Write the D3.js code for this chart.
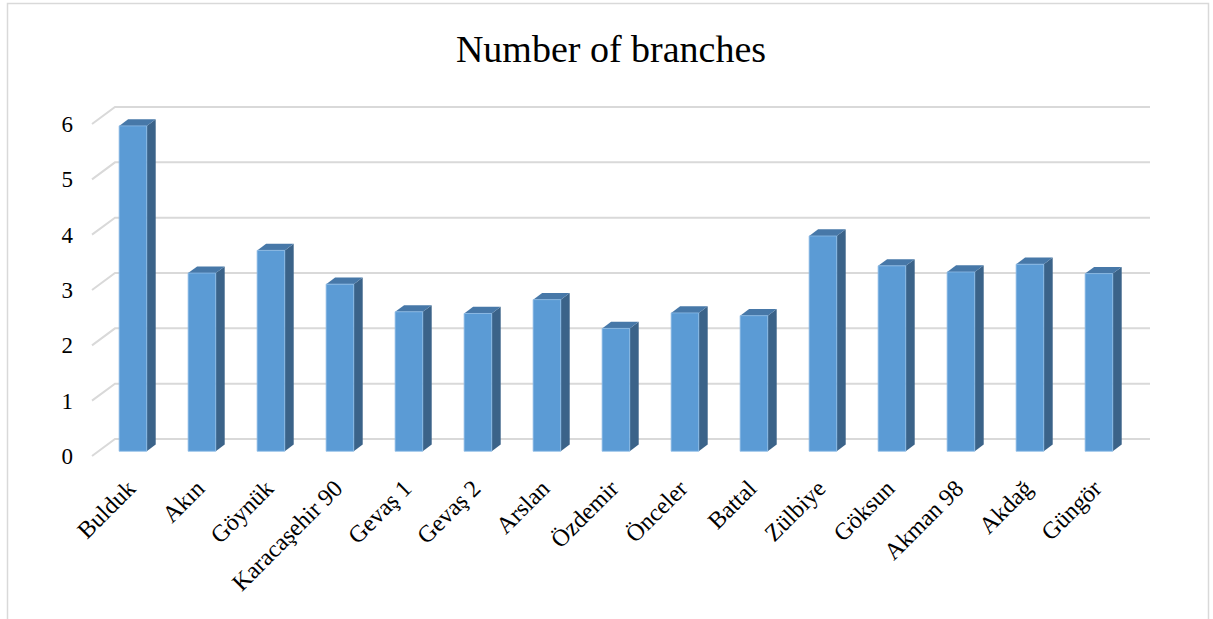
<!DOCTYPE html>
<html>
<head>
<meta charset="utf-8">
<script src="https://cdn.jsdelivr.net/npm/d3@7"></script>
<style>
  html, body { margin: 0; padding: 0; background: #fff; }
  svg { display: block; font-family: "Liberation Serif", "Times New Roman", serif; }
</style>
</head>
<body>
<script>
const categories = ["Bulduk", "Akın", "Göynük", "Karacaşehir 90", "Gevaş 1", "Gevaş 2", "Arslan", "Özdemir", "Önceler", "Battal", "Zülbiye", "Göksun", "Akman 98", "Akdağ", "Güngör"];
const values = [5.88, 3.22, 3.63, 3.02, 2.52, 2.49, 2.74, 2.22, 2.50, 2.45, 3.89, 3.35, 3.24, 3.38, 3.21];
const yTicks = [0, 1, 2, 3, 4, 5, 6];
const title = "Number of branches";

const W = 1213, H = 619;
const svg = d3.select("body").append("svg").attr("width", W).attr("height", H);

// chart border
svg.append("rect").attr("x", 7.5).attr("y", 3.5).attr("width", 1201).attr("height", 700)
  .attr("fill", "#fff").attr("stroke", "#D9D9D9").attr("stroke-width", 1.5);

// back-wall scales
const x = d3.scaleBand().domain(categories).range([115, 1150]).paddingInner(0).paddingOuter(0);
const y = d3.scaleLinear().domain([0, 6]).range([439, 107]);
// oblique depth vector (back -> front)
const DX = -23, DY = 17;
const P = (xb, yb, t) => [xb + DX * t, yb + DY * t];

// title
svg.append("text").attr("x", 611).attr("y", 62).attr("text-anchor", "middle")
  .attr("font-size", 38).attr("fill", "#000").text(title);

// gridlines (back wall + left side wall diagonal)
const grid = svg.append("g").attr("stroke", "#D9D9D9").attr("stroke-width", 2).attr("fill", "none");
yTicks.forEach(v => {
  const yb = y(v);
  const f = P(115, yb, 1);
  grid.append("path").attr("d", `M${f[0]},${f[1]}L115,${yb}L1150,${yb}`);
});

// y tick labels at front-left
svg.append("g").selectAll("text").data(yTicks).join("text")
  .attr("x", 73).attr("y", d => P(115, y(d), 1)[1])
  .attr("dy", "0.35em").attr("text-anchor", "end")
  .attr("font-size", 23).attr("fill", "#000").text(d => d);

// bars
const tFront = 0.72, tBack = 0.33;
const bw = x.bandwidth() * 0.4;
const bars = svg.append("g");
categories.forEach((c, i) => {
  const cx = x(c) + x.bandwidth() / 2;
  const xl = cx - bw / 2, xr = cx + bw / 2;
  const y0 = y(0), y1 = y(values[i]);
  const fbl = P(xl, y0, tFront), fbr = P(xr, y0, tFront), ftl = P(xl, y1, tFront), ftr = P(xr, y1, tFront);
  const bbr = P(xr, y0, tBack), btl = P(xl, y1, tBack), btr = P(xr, y1, tBack);
  // side face
  bars.append("path").attr("d", `M${fbr}L${bbr}L${btr}L${ftr}Z`).attr("fill", "#3B6389");
  // top face
  bars.append("path").attr("d", `M${ftl}L${ftr}L${btr}L${btl}Z`).attr("fill", "#4778A8");
  // front face
  bars.append("path").attr("d", `M${ftl}L${ftr}L${fbr}L${fbl}Z`).attr("fill", "#5B9BD5")
    .attr("stroke", "#8DBBE6").attr("stroke-width", 0.8);
});

// category labels
svg.append("g").selectAll("text").data(categories).join("text")
  .attr("transform", d => {
    const cx = x(d) + x.bandwidth() / 2 + DX * tFront;
    return `translate(${cx + 4},${490}) rotate(-45)`;
  })
  .attr("text-anchor", "end").attr("font-size", 24).attr("fill", "#000").text(d => d);
</script>
</body>
</html>
